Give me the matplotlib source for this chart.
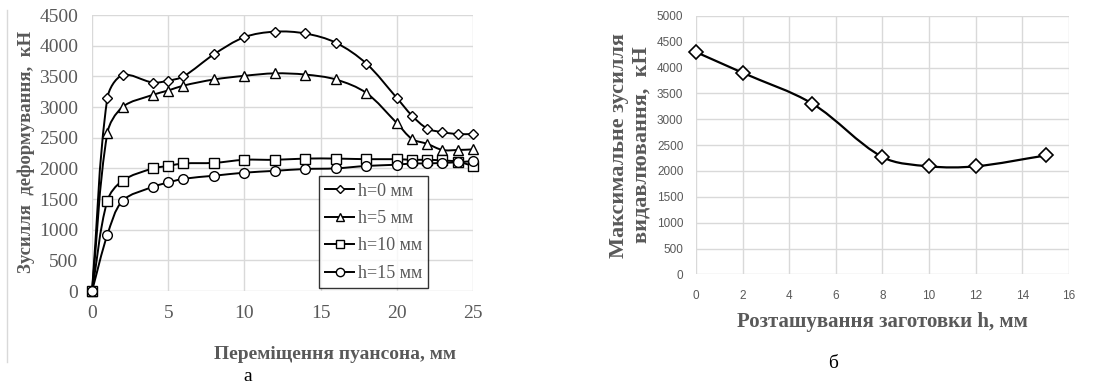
import numpy as np
import matplotlib
matplotlib.use("Agg")
import matplotlib.pyplot as plt
from matplotlib.path import Path
from matplotlib.patches import PathPatch
from matplotlib.lines import Line2D

# --- дані: рисунок а ---
stroke = [0, 1, 2, 4, 5, 6, 8, 10, 12, 14, 16, 18, 20, 21, 22, 23, 24, 25]
force_h0 = [0, 3140, 3520, 3400, 3430, 3500, 3860, 4140, 4230, 4200, 4050, 3710, 3150, 2860, 2650, 2590, 2560, 2560]
force_h5 = [0, 2570, 3000, 3200, 3270, 3350, 3450, 3510, 3550, 3530, 3450, 3230, 2740, 2480, 2400, 2300, 2300, 2310]
force_h10 = [0, 1470, 1800, 2000, 2040, 2080, 2090, 2140, 2140, 2160, 2160, 2150, 2150, 2140, 2140, 2130, 2110, 2040]
force_h15 = [0, 910, 1470, 1700, 1770, 1830, 1880, 1930, 1960, 1990, 2000, 2040, 2060, 2080, 2080, 2090, 2100, 2120]
labels_a = ['h=0 мм', 'h=5 мм', 'h=10 мм', 'h=15 мм']
markers_a = ['D', '^', 's', 'o']

# --- дані: рисунок б ---
pos_h = [0, 2, 5, 8, 10, 12, 15]
max_force = [4300, 3900, 3300, 2270, 2090, 2090, 2300]

GRAY = '#595959'
GRID = '#d9d9d9'
SERIF = ['Liberation Serif', 'DejaVu Serif']
SANS = ['Liberation Sans', 'DejaVu Sans']


def smooth(ax, x, y, lw=1.4):
    '''гладка крива (безьє, довжини сегментів рахуються в пікселях)'''
    p = np.column_stack([x, y]).astype(float)
    d = ax.transData.transform(p)          # екранні координати
    n = len(p)
    seg = np.hypot(*np.diff(d, axis=0).T)
    verts = [p[0]]
    codes = [Path.MOVETO]
    for i in range(n - 1):
        # дотична в точці i
        if i > 0:
            t0 = (p[i + 1] - p[i - 1]) * seg[i] / (seg[i - 1] + seg[i]) / 3
        else:
            t0 = (p[i + 1] - p[i]) / 3
        if i + 2 < n:
            t1 = (p[i + 2] - p[i]) * seg[i] / (seg[i] + seg[i + 1]) / 3
        else:
            t1 = (p[i + 1] - p[i]) / 3
        verts += [p[i] + t0, p[i + 1] - t1, p[i + 1]]
        codes += [Path.CURVE4] * 3
    ax.add_patch(PathPatch(Path(verts, codes), fill=False, lw=lw, ec='k', zorder=3, clip_on=False))


fig = plt.figure(figsize=(11.17, 3.87), dpi=100)

# ---------- а ----------
ax1 = fig.add_axes([0.0824, 0.248, 0.341, 0.713])
ax1.set_xlim(0, 25)
ax1.set_ylim(0, 4500)
series = [force_h0, force_h5, force_h10, force_h15]
msz = [5, 6.5, 7, 7]
handles = []
for ys, m, lab, s in zip(series, markers_a, labels_a, msz):
    smooth(ax1, stroke, ys)
    ax1.plot(stroke, ys, ls='none', marker=m, ms=s, mfc='white', mec='k', mew=1.0, zorder=4, clip_on=False)
    handles.append(Line2D([], [], color='k', lw=1.4, marker=m, ms=s - 1, mfc='white', mec='k', mew=1.0))
ax1.set_xticks(range(0, 26, 5))
ax1.set_yticks(range(0, 4501, 500))
ax1.grid(True, color=GRID, lw=1)
ax1.set_axisbelow(True)
for s in ax1.spines.values():
    s.set_visible(False)
ax1.tick_params(length=0, labelsize=14, labelcolor=GRAY)
ax1.tick_params(axis='x', pad=10)
ax1.tick_params(axis='y', pad=10)
for t in ax1.get_xticklabels() + ax1.get_yticklabels():
    t.set_family(SERIF)
ax1.set_ylabel('Зусилля  деформування,  кН', family=SERIF, fontsize=13.5, fontweight='bold',
               color=GRAY)
ax1.yaxis.set_label_coords(-0.15, 0.505)
ax1.set_xlabel('Переміщення пуансона, мм', family=SERIF, fontsize=14, fontweight='bold',
               color=GRAY)
ax1.xaxis.set_label_coords(0.639, -0.2)
leg = ax1.legend(handles, labels_a, loc='lower right', bbox_to_anchor=(0.883, 0.01),
                 prop={'family': SERIF, 'size': 13}, frameon=True, fancybox=False,
                 handlelength=1.6, handletextpad=0.2, borderpad=0.35, labelspacing=0.58,
                 borderaxespad=0)
leg.get_frame().set_edgecolor('k')
leg.get_frame().set_linewidth(1.0)
for t in leg.get_texts():
    t.set_color(GRAY)
fig.text(0.222, 0.026, 'а', family=SERIF, fontsize=14, ha='center', va='center')
fig.add_artist(Line2D([0.006, 0.006], [0.065, 0.975], color=GRID, lw=1, transform=fig.transFigure))

# ---------- б ----------
ax2 = fig.add_axes([0.623, 0.291, 0.334, 0.668])
ax2.set_xlim(0, 16)
ax2.set_ylim(0, 5000)
smooth(ax2, pos_h, max_force, lw=1.6)
ax2.plot(pos_h, max_force, ls='none', marker='D', ms=7.5, mfc='white', mec='k', mew=1.2, zorder=4, clip_on=False)
ax2.set_xticks(range(0, 17, 2))
ax2.set_yticks(range(0, 5001, 500))
ax2.grid(True, color=GRID, lw=1)
ax2.set_axisbelow(True)
for s in ax2.spines.values():
    s.set_visible(False)
ax2.tick_params(length=0, labelsize=8.5, labelcolor=GRAY)
ax2.tick_params(axis='x', pad=11)
ax2.tick_params(axis='y', pad=9)
for t in ax2.get_xticklabels() + ax2.get_yticklabels():
    t.set_family(SANS)
ax2.set_ylabel('Максимальне зусилля\nвидавлювання,  кН', family=SERIF, fontsize=16,
               fontweight='bold', color=GRAY, linespacing=1.2)
ax2.yaxis.set_label_coords(-0.118, 0.5)
ax2.set_xlabel('Розташування заготовки h, мм', family=SERIF, fontsize=15, fontweight='bold',
               color=GRAY)
ax2.xaxis.set_label_coords(0.5, -0.145)
fig.text(0.746, 0.06, 'б', family=SERIF, fontsize=14, ha='center', va='center')

fig.savefig('out.png', dpi=100)
